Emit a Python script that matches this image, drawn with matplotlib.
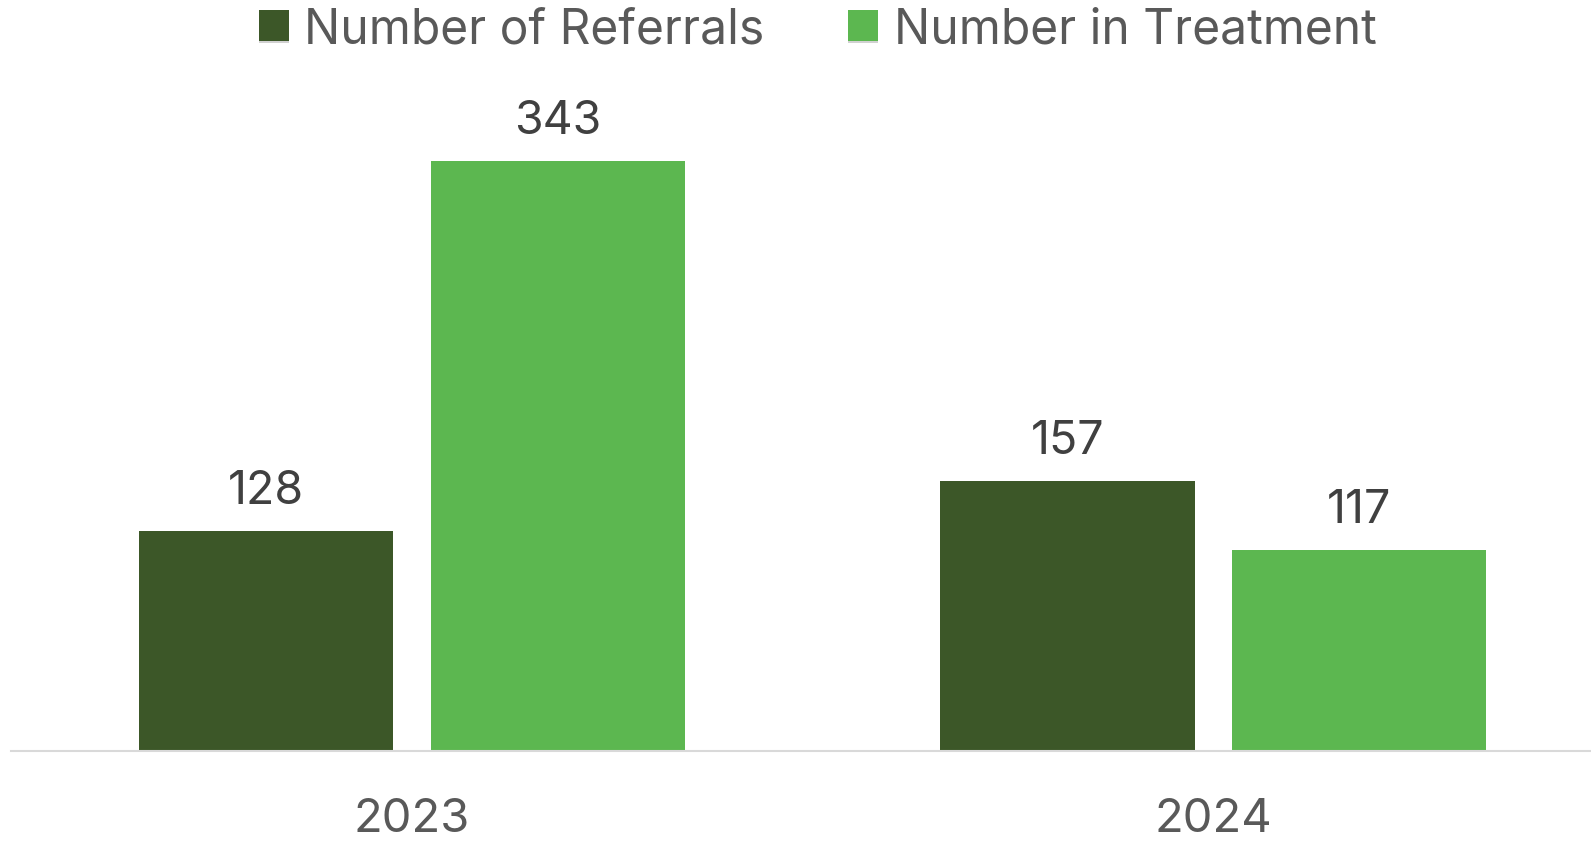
import numpy as np
import matplotlib
matplotlib.use("Agg")
import matplotlib.pyplot as plt
import matplotlib.patheffects as pe

plt.rcParams['font.family'] = ['Inter', 'DejaVu Sans']

years = ["2023", "2024"]
referrals = [128, 157]
treatment = [343, 117]
series_names = ["Number of Referrals", "Number in Treatment"]

dark = "#3C5728"
light = "#5CB750"
txt = "#595959"

W, H = 1591, 845
fig = plt.figure(figsize=(W/100, H/100), dpi=100)
# axes: left edge at 11px, baseline at 752px, top at 64px
ax = fig.add_axes([11/W, (H-752)/H, (W-11)/W, (752-64)/H])

x = np.arange(len(years))
bw = 0.317
off = 0.182
shadow = [pe.SimplePatchShadow(offset=(0, -1), shadow_rgbFace="#000000", alpha=0.18), pe.Normal()]
b1 = ax.bar(x - off, referrals, bw, color=dark, label=series_names[0], zorder=3)
b2 = ax.bar(x + off, treatment, bw, color=light, label=series_names[1], zorder=3)
for b in list(b1) + list(b2):
    b.set_path_effects(shadow)

# value labels above bars
for bars in (b1, b2):
    for r in bars:
        ax.annotate(f"{int(r.get_height())}", (r.get_x() + r.get_width()/2, r.get_height()),
                    xytext=(0, 13), textcoords="offset points", ha="center", va="bottom",
                    fontsize=33.5, color="#404040")

ax.set_xlim(-0.5, 1.471)
ax.set_ylim(0, 400)
ax.set_yticks([])
ax.set_xticks(x)
ax.set_xticklabels(years, fontsize=34, color=txt)
ax.tick_params(axis="x", length=0, pad=33)
for s in ["top", "right", "left"]:
    ax.spines[s].set_visible(False)
ax.spines["bottom"].set_color("#D9D9D9")
ax.spines["bottom"].set_linewidth(1.5)
ax.spines["bottom"].set_zorder(4)

leg = fig.legend(handles=[b1, b2], loc="upper center", bbox_to_anchor=(0.514, 1.042), ncol=2,
                 frameon=False, fontsize=34.5, handlelength=0.62, handleheight=0.62,
                 handletextpad=0.33, columnspacing=1.75, labelcolor=txt)

fig.savefig("out.png", dpi=100)
